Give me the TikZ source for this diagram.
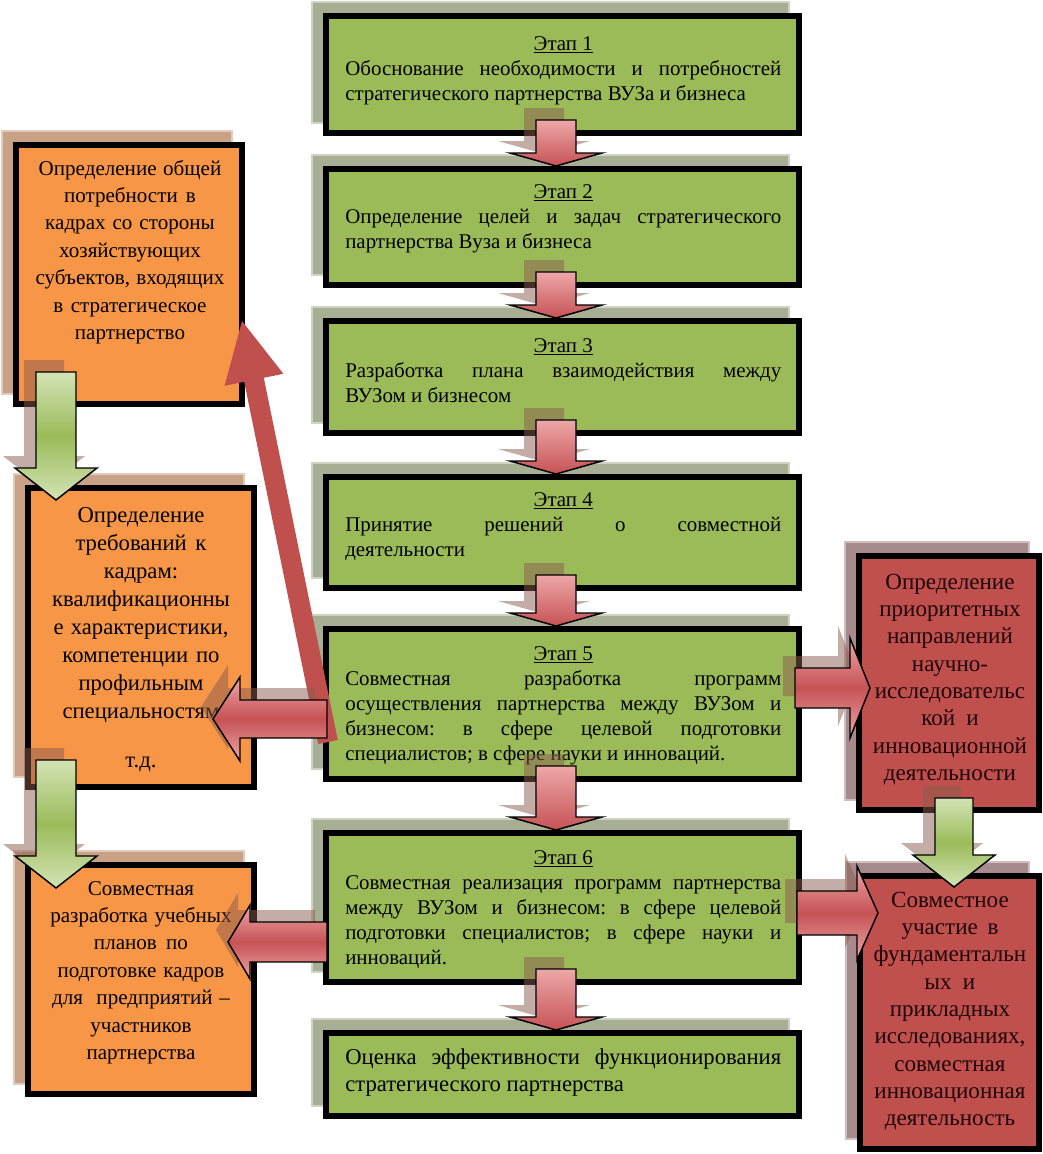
\documentclass[tikz,border=0pt]{standalone}
\usepackage{fontspec}
\setmainfont{Liberation Serif}
\usetikzlibrary{calc}
\definecolor{gfill}{HTML}{9BBB59}
\definecolor{gshadow}{HTML}{A6AF94}
\definecolor{ofill}{HTML}{F79646}
\definecolor{oshadow}{HTML}{C8A187}
\definecolor{rfill}{HTML}{C0504D}
\definecolor{rshadow}{HTML}{A68A8C}
\definecolor{arrowred}{HTML}{C65255}
\definecolor{arrowpink}{HTML}{EDA7A8}
\definecolor{arrowgreen}{HTML}{9BBB59}
\definecolor{arrowlgreen}{HTML}{D3E4B5}
\definecolor{ashadow}{HTML}{8A5C4E}
\definecolor{rtext}{HTML}{1E0505}
\frenchspacing
\newcommand\nsp{\frenchspacing\spaceskip=0pt\xspaceskip=0pt\relax}
\newcommand\jl[1]{{\nsp\makebox[\linewidth][s]{#1}}}
\newcommand\fsA{\fontsize{15.7}{18.75}\selectfont}
\newcommand\fsB{\fontsize{17}{20.6}\selectfont}
\newcommand\fsO{\fontsize{15.8}{20.6}\selectfont}
\newcommand\fsOb{\fontsize{17}{21}\selectfont}
\newcommand\fsR{\fontsize{17.3}{20.5}\selectfont}
% name, fill, shadow, x1, y1, x2, y2 (outer edges, px)
\newcommand\mkbox[7]{%
  \fill[#3] (#4-12,#5-12) rectangle (#6-12,#7-12);
  \draw[#3!55!white, line width=1.2pt] (#4-11,#5-11) rectangle (#6-13,#7-13);
  \node[boxst, fill=#2, minimum width={(#6-#4-6)*0.75pt}, minimum height={(#7-#5-6)*0.75pt}] (#1) at ({(#4+#6)/2},{(#5+#7)/2}) {};
}
% style, A, B, shaft half, head half, head length
\newcommand\barrow[6]{%
  \coordinate (tmpH) at ($#3!#6!#2$);
  \path[#1] ($#2!#4!90:#3$) -- ($(tmpH)!#4!90:#3$) -- ($(tmpH)!#5!90:#3$) -- #3
    -- ($(tmpH)!#5!-90:#3$) -- ($(tmpH)!#4!-90:#3$) -- ($#2!#4!-90:#3$) -- cycle;
}
% arrow with shadow
\newcommand\sarrow[6]{%
  \begin{scope}[transform canvas={xshift=-9pt,yshift=9pt}]
    \barrow{ashadowst}{#2}{#3}{#4}{#5}{#6}
  \end{scope}
  \barrow{#1}{#2}{#3}{#4}{#5}{#6}
}
\begin{document}
\begin{tikzpicture}[x=0.75pt,y=-0.75pt,
  boxst/.style={draw=black, line width=4.5pt, inner sep=0pt, outer sep=0pt},
  txt/.style={inner sep=0pt},
  gtext/.style={txt, font=\fsA, text width=327pt, align=left, anchor=base west},
  gtextB/.style={txt, font=\fsB, text width=327pt, align=left, anchor=base west},
  ctext/.style={txt, font=\fsO, text width=168pt, align=center, anchor=base},
  ashadowst/.style={fill=ashadow, opacity=0.5},
  redv/.style={draw=black, line width=1.1pt, top color=arrowpink, bottom color=arrowred},
  redh/.style={draw=black, line width=1.1pt, top color=arrowpink, bottom color=arrowpink, middle color=arrowred},
  greenv/.style={draw=black, line width=1.1pt, top color=arrowlgreen, bottom color=arrowlgreen, middle color=arrowgreen},
  diag/.style={fill=rfill}
]
\useasboundingbox (0,0) rectangle (1043,1154);
\fill[white] (0,0) rectangle (1043,1154);

% boxes
\mkbox{s1}{gfill}{gshadow}{323}{13}{802}{136}
\mkbox{s2}{gfill}{gshadow}{323}{166}{802}{288}
\mkbox{s3}{gfill}{gshadow}{323}{318}{802}{436}
\mkbox{s4}{gfill}{gshadow}{323}{474}{802}{591}
\mkbox{s5}{gfill}{gshadow}{323}{626}{802}{782}
\mkbox{s6}{gfill}{gshadow}{323}{830}{802}{985}
\mkbox{s7}{gfill}{gshadow}{323}{1030}{802}{1119}
\mkbox{o1}{ofill}{oshadow}{13}{142}{245}{407}
\mkbox{o2}{ofill}{oshadow}{25}{485}{257}{790}
\mkbox{o3}{ofill}{oshadow}{25}{862}{257}{1097}
\mkbox{r1}{rfill}{rshadow}{856}{553}{1042}{813}
\mkbox{r2}{rfill}{rshadow}{857}{873}{1042}{1152}

% texts
\node[gtext] (t1) at (345,50) {\nsp\makebox[\linewidth]{\underline{Этап 1}}\\
  \jl{Обоснование необходимости и потребностей}\\
  стратегического партнерства ВУЗа и бизнеса};
\node[gtext] (t2) at (345,198) {\nsp\makebox[\linewidth]{\underline{Этап 2}}\\
  \jl{Определение целей и задач стратегического}\\
  партнерства Вуза и бизнеса};
\node[gtext] (t3) at (345,352) {\nsp\makebox[\linewidth]{\underline{Этап 3}}\\
  \jl{Разработка плана взаимодействия между}\\
  ВУЗом и бизнесом};
\node[gtext] (t4) at (345,506) {\nsp\makebox[\linewidth]{\underline{Этап 4}}\\
  \jl{Принятие решений о совместной}\\
  деятельности};
\node[gtext] (t5) at (345,660) {\nsp\makebox[\linewidth]{\underline{Этап 5}}\\
  \jl{Совместная разработка программ}\\
  \jl{осуществления партнерства между ВУЗом и}\\
  \jl{бизнесом: в сфере целевой подготовки}\\
  специалистов; в сфере науки и инноваций.};
\node[gtext] (t6) at (345,864) {\nsp\makebox[\linewidth]{\underline{Этап 6}}\\
  \jl{Совместная реализация программ партнерства}\\
  \jl{между ВУЗом и бизнесом: в сфере целевой}\\
  \jl{подготовки специалистов; в сфере науки и}\\
  инноваций.};
\node[gtextB] (t7) at (345,1064) {\nsp\jl{Оценка эффективности функционирования}\\
  стратегического партнерства};

\node[ctext] (to1) at (130,175) {\nsp Определение общей\\ потребности в\\ кадрах со стороны\\ хозяйствующих\\ субъектов, входящих\\ в стратегическое\\ партнерство};
\node[ctext, font=\fsOb] (to2) at (141,522) {\nsp Определение\\ требований к\\ кадрам:\\ квалификационны\\ е характеристики,\\ компетенции по\\ профильным\\ специальностям\\[16pt] т.д.};
\node[ctext] (to3) at (141,895) {\nsp Совместная\\ разработка учебных\\ планов по\\ подготовке кадров\\ для~ предприятий –\\ участников\\ партнерства};
\node[ctext, font=\fsR, text=rtext] (tr1) at (950,589) {\nsp Определение\\ приоритетных\\ направлений\\ научно-\\ исследовательс\\ кой и\\ инновационной\\ деятельности};
\node[ctext, font=\fsR, text=rtext] (tr2) at (950,907) {\nsp Совместное\\ участие в\\ фундаментальн\\ ых и\\ прикладных\\ исследованиях,\\ совместная\\ инновационная\\ деятельность};

% diagonal arrow
\coordinate (dA) at ($(s5.west)+(2,38)$);
\coordinate (dB) at ($(o1.east)+(0,46.5)$);
\barrow{diag}{(dA)}{(dB)}{7.5pt}{22.5pt}{45pt}

% stage arrows
\coordinate (a1A) at ($(s1.south)+(-6.5,-13)$); \coordinate (a1B) at ($(s2.north)+(-6.5,-3)$);
\coordinate (a2A) at ($(s2.south)+(-6.5,-13)$); \coordinate (a2B) at ($(s3.north)+(-6.5,-3)$);
\coordinate (a3A) at ($(s3.south)+(-6.5,-13)$); \coordinate (a3B) at ($(s4.north)+(-6.5,-3)$);
\coordinate (a4A) at ($(s4.south)+(-6.5,-13)$); \coordinate (a4B) at ($(s5.north)+(-6.5,-3)$);
\coordinate (a5A) at ($(s5.south)+(-6.5,-13)$); \coordinate (a5B) at ($(s6.north)+(-6.5,-3)$);
\coordinate (a6A) at ($(s6.south)+(-6.5,-13)$); \coordinate (a6B) at ($(s7.north)+(-6.5,-3)$);
\foreach \i in {1,...,6}{\sarrow{redv}{(a\i A)}{(a\i B)}{15pt}{34.5pt}{9.75pt}}

% green arrows
\coordinate (g1A) at ($(o1.south)+(-73,-32)$); \coordinate (g1B) at ($(o2.north)+(-85,12)$);
\coordinate (g2A) at ($(o2.south)+(-85,-27)$); \coordinate (g2B) at ($(o3.north)+(-85,23)$);
\coordinate (g3A) at ($(r1.south)+(5,-12)$); \coordinate (g3B) at ($(r2.north)+(4.5,11)$);
\sarrow{greenv}{(g1A)}{(g1B)}{15pt}{30.75pt}{24pt}
\sarrow{greenv}{(g2A)}{(g2B)}{15pt}{30.75pt}{24pt}
\sarrow{greenv}{(g3A)}{(g3B)}{14.25pt}{30.75pt}{24pt}

% horizontal arrows
\coordinate (h1A) at ($(s5.west)+(1,15)$); \coordinate (h1B) at ($(h1A -| o2.east)+(-41,0)$);
\coordinate (h2A) at ($(s5.east)+(-4,-16)$); \coordinate (h2B) at ($(h2A -| r1.west)+(11,0)$);
\coordinate (h3A) at ($(s6.west)+(1,34.5)$); \coordinate (h3B) at ($(h3A -| o3.east)+(-26,0)$);
\coordinate (h4A) at ($(s6.east)+(-2,5.5)$); \coordinate (h4B) at ($(h4A -| r2.west)+(18,0)$);
\sarrow{redh}{(h1A)}{(h1B)}{14.25pt}{31.5pt}{20.25pt}
\sarrow{redh}{(h2A)}{(h2B)}{15pt}{37.5pt}{15pt}
\sarrow{redh}{(h3A)}{(h3B)}{15pt}{27.75pt}{16.5pt}
\sarrow{redh}{(h4A)}{(h4B)}{16.5pt}{35.25pt}{15.75pt}
\end{tikzpicture}
\end{document}
